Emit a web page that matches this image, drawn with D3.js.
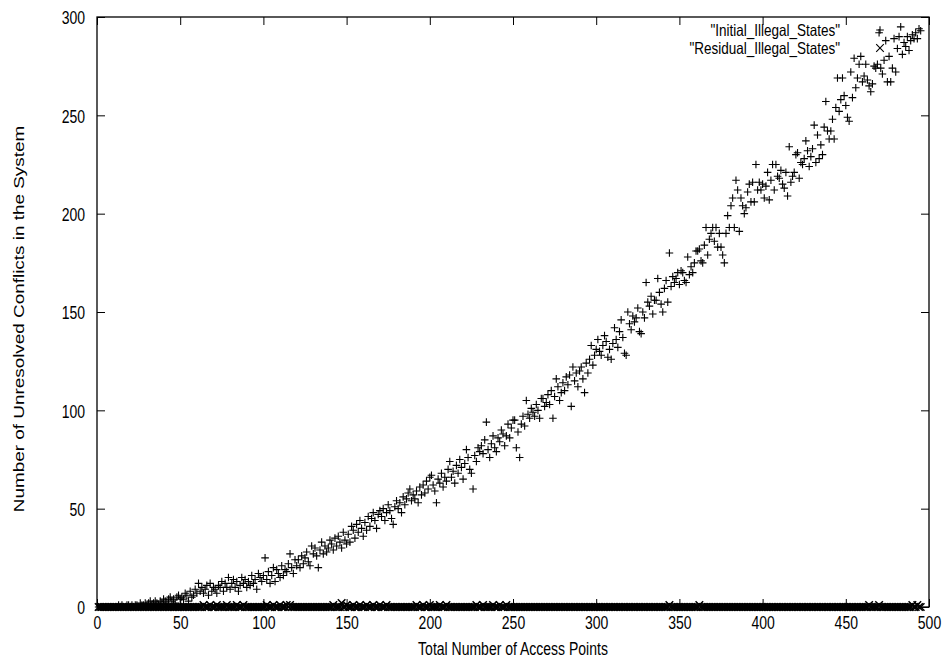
<!DOCTYPE html>
<html>
<head>
<meta charset="utf-8">
<script src="https://cdn.jsdelivr.net/npm/d3@7"></script>
<style>
  html, body { margin: 0; padding: 0; background: #fff; }
  svg { display: block; }
  text { font-family: "Liberation Sans", Arial, Helvetica, sans-serif; fill: #000; }
</style>
</head>
<body>
<svg id="chart" width="951" height="668"></svg>
<script>
// Number of access points in each run (x axis)
const accessPoints = d3.range(1, 496);

// Conflicts present before resolution, one value per run
const initialIllegal = [
  0,0,0,0,0,0,0,0,0,0,
  0,0,1,0,1,0,0,1,1,0,
  1,0,1,1,0,2,1,1,2,1,
  2,3,1,2,3,2,1,3,2,4,
  3,2,4,5,3,4,2,5,6,4,
  5,4,7,6,3,8,5,6,9,7,
  12,8,10,7,9,11,6,12,8,10,
  9,7,11,10,13,8,12,10,15,9,
  12,14,10,13,8,11,15,12,14,10,
  13,11,16,12,14,9,17,15,13,16,
  25,14,18,12,16,20,13,19,17,15,
  21,16,19,18,22,27,20,17,24,21,
  24,20,26,22,25,28,23,21,31,27,
  30,26,20,29,33,27,31,28,30,34,
  32,29,35,31,36,33,30,38,34,32,
  37,33,41,39,35,42,38,44,40,36,
  43,39,46,41,45,48,44,40,47,49,
  46,50,44,48,52,49,45,42,51,54,
  50,53,48,56,52,55,58,60,54,57,
  55,59,53,61,57,62,58,64,60,66,
  67,62,59,53,65,63,68,61,66,64,
  70,74,66,69,63,72,68,75,71,65,
  73,80,76,70,68,60,77,74,81,79,
  82,78,85,94,80,76,83,87,81,79,
  86,84,90,88,82,87,93,86,91,95,
  95,81,89,76,93,97,92,105,98,96,
  101,99,97,103,100,96,106,106,102,104,
  108,103,110,96,107,116,112,105,109,114,
  110,117,113,118,102,122,115,119,112,120,
  122,116,109,124,119,126,133,123,128,131,
  136,130,128,133,138,135,127,131,126,134,
  142,136,132,140,146,137,129,128,150,144,
  141,148,145,147,152,140,139,150,147,165,
  155,153,158,149,156,156,167,160,154,150,
  162,166,155,180,163,168,165,167,170,164,
  171,170,166,165,178,169,173,170,175,181,
  181,182,176,175,184,193,179,187,190,193,
  186,193,183,190,183,179,175,190,199,193,
  204,208,193,217,212,191,208,204,200,203,
  211,215,206,216,206,225,212,216,212,215,
  208,214,221,207,217,225,212,225,219,218,
  222,215,213,221,209,234,216,219,221,230,
  231,218,226,225,228,237,232,224,229,233,
  245,226,240,228,235,230,244,257,242,238,
  242,248,238,254,269,252,258,269,260,255,
  249,247,272,259,279,264,269,276,280,267,
  270,276,268,265,262,266,275,274,276,292,
  274,271,278,288,267,280,267,274,289,272,
  284,290,295,281,287,285,290,283,288,291,
  289,292,289,294,293
];

// Conflicts left after resolution, one value per run
const residualIllegal = [
  0,0,0,0,0,0,0,0,0,0,0,0,0,0,0,0,0,0,0,0,
  0,0,0,0,0,0,0,0,0,0,0,0,0,0,0,0,0,0,0,0,
  0,0,0,0,0,0,0,0,0,0,0,0,0,0,0,0,0,0,0,0,
  0,0,0,1,0,0,0,1,0,0,0,1,0,0,0,0,0,1,0,0,
  0,0,0,1,0,0,0,1,0,0,0,0,0,0,0,0,0,0,0,0,
  0,1,0,0,0,1,0,0,0,1,0,0,0,1,0,1,0,0,0,0,
  0,0,0,0,0,0,0,0,0,0,0,0,0,0,0,0,0,0,0,0,
  0,1,0,0,0,0,2,0,0,1,0,0,0,1,0,0,0,1,0,0,
  0,1,0,0,0,1,0,0,0,1,0,0,0,1,0,0,0,0,0,0,
  0,0,0,0,0,0,0,0,0,0,0,1,0,0,0,1,0,0,0,1,
  0,0,0,0,0,1,0,0,0,1,0,0,0,0,0,0,0,0,0,0,
  0,0,0,0,0,0,0,1,0,0,0,1,0,0,0,0,0,1,0,0,
  0,1,0,0,0,1,0,0,0,0,0,0,0,0,0,0,0,0,0,0,
  0,0,0,0,0,0,0,0,0,0,0,0,0,0,0,0,0,0,0,0,
  0,0,0,0,0,0,0,0,0,0,0,0,0,0,0,0,0,0,0,0,
  0,0,0,0,0,0,0,0,0,0,0,0,0,0,0,0,0,0,0,0,
  0,0,0,0,0,0,0,0,0,0,0,0,0,0,0,0,0,0,0,0,
  0,0,0,1,0,0,0,0,0,0,0,0,0,0,0,0,0,0,0,0,
  0,1,0,0,0,0,0,0,0,0,0,0,0,0,0,0,0,0,0,0,
  0,0,0,0,0,0,0,0,0,0,0,0,0,0,0,0,0,0,0,0,
  0,0,0,0,0,0,0,0,0,0,0,0,0,0,0,0,0,0,0,0,
  0,0,0,0,0,0,0,0,0,0,0,0,0,0,0,0,0,0,0,0,
  0,0,0,0,0,0,0,0,0,0,0,0,0,0,0,0,0,0,0,0,
  0,0,0,1,0,0,0,0,0,1,0,0,0,0,0,0,0,0,0,0,
  0,0,0,0,0,0,0,0,0,1,0,0,1,0,0
];

const xTicks = [0, 50, 100, 150, 200, 250, 300, 350, 400, 450, 500];
const yTicks = [0, 50, 100, 150, 200, 250, 300];
const seriesNames = ['"Initial_Illegal_States"', '"Residual_Illegal_States"'];
const xTitle = "Total Number of Access Points";
const yTitle = "Number of Unresolved Conflicts in the System";

const width = 951, height = 668;
const margin = { top: 17, right: 22, bottom: 61, left: 97 };
const fontSize = 14;
const stretch = 1.35;   // glyphs are drawn taller than wide
const tick = 8;

const svg = d3.select("#chart");

const x = d3.scaleLinear().domain([0, 500]).range([margin.left, width - margin.right]);
const y = d3.scaleLinear().domain([0, 300]).range([height - margin.bottom, margin.top]);

function styleAxis(g) {
  g.select(".domain").remove();
  g.selectAll(".tick line").attr("stroke", "#000").attr("stroke-width", 1);
  g.selectAll("text").attr("font-size", fontSize).attr("font-family", null).attr("fill", "#000");
}

// axes with inward ticks, mirrored on top and right
svg.append("g")
  .attr("transform", `translate(0,${y(0)})`)
  .call(d3.axisBottom(x).tickValues(xTicks).tickSizeInner(-tick).tickSizeOuter(0))
  .call(styleAxis)
  .call(g => g.selectAll(".tick text")
    .attr("y", 0).attr("dy", "0.36em")
    .attr("transform", `translate(0,15) scale(1,${stretch})`));

svg.append("g")
  .attr("transform", `translate(${x(0)},0)`)
  .call(d3.axisLeft(y).tickValues(yTicks).tickSizeInner(-tick).tickSizeOuter(0))
  .call(styleAxis)
  .call(g => g.selectAll(".tick text")
    .attr("x", -12).attr("dy", "0.36em")
    .attr("transform", `scale(1,${stretch})`));

svg.append("g")
  .attr("transform", `translate(0,${y(300)})`)
  .call(d3.axisTop(x).tickValues(xTicks).tickSizeInner(-tick).tickSizeOuter(0).tickFormat(""))
  .call(styleAxis);

svg.append("g")
  .attr("transform", `translate(${x(500)},0)`)
  .call(d3.axisRight(y).tickValues(yTicks).tickSizeInner(-tick).tickSizeOuter(0).tickFormat(""))
  .call(styleAxis);

// plot frame
svg.append("rect")
  .attr("x", x(0)).attr("y", y(300))
  .attr("width", x(500) - x(0)).attr("height", y(0) - y(300))
  .attr("fill", "none").attr("stroke", "#000").attr("stroke-width", 1.3);

// axis titles
svg.append("text")
  .attr("transform", `translate(${(x(0) + x(500)) / 2},648) scale(1,${stretch})`)
  .attr("dy", "0.36em")
  .attr("text-anchor", "middle").attr("font-size", fontSize)
  .text(xTitle);

svg.append("text")
  .attr("transform", `translate(19,319) rotate(-90) scale(${stretch},1)`)
  .attr("dy", "0.36em")
  .attr("text-anchor", "middle").attr("font-size", fontSize)
  .text(yTitle);

// point symbols
const r = 3.8;
const plusPath = `M${-r},0H${r}M0,${-r}V${r}`;
const crossPath = `M${-r},${-r}L${r},${r}M${-r},${r}L${r},${-r}`;

const pts = svg.append("g").attr("fill", "none").attr("stroke", "#000");

pts.selectAll("path.residual")
  .data(accessPoints.map((a, i) => [a, residualIllegal[i]]))
  .join("path")
  .attr("class", "residual")
  .attr("stroke-width", 1.5)
  .attr("transform", d => `translate(${x(d[0])},${y(d[1])})`)
  .attr("d", crossPath);

pts.selectAll("path.initial")
  .data(accessPoints.map((a, i) => [a, initialIllegal[i]]))
  .join("path")
  .attr("class", "initial")
  .attr("stroke-width", 1.1)
  .attr("transform", d => `translate(${x(d[0])},${y(d[1])})`)
  .attr("d", plusPath);

// key
const key = svg.append("g");
const keyRows = [{ name: seriesNames[0], d: plusPath }, { name: seriesNames[1], d: crossPath }];
const keyFont = 13.5, keyStretch = 1.25;
keyRows.forEach((k, i) => {
  const cy = 30 + i * 18;
  key.append("text")
    .attr("transform", `translate(840,${cy}) scale(1,${keyStretch})`)
    .attr("dy", "0.36em")
    .attr("text-anchor", "end").attr("font-size", keyFont)
    .text(k.name);
  key.append("path")
    .attr("transform", `translate(880,${cy})`)
    .attr("d", k.d).attr("fill", "none").attr("stroke", "#000").attr("stroke-width", 1.1);
});
</script>
</body>
</html>
